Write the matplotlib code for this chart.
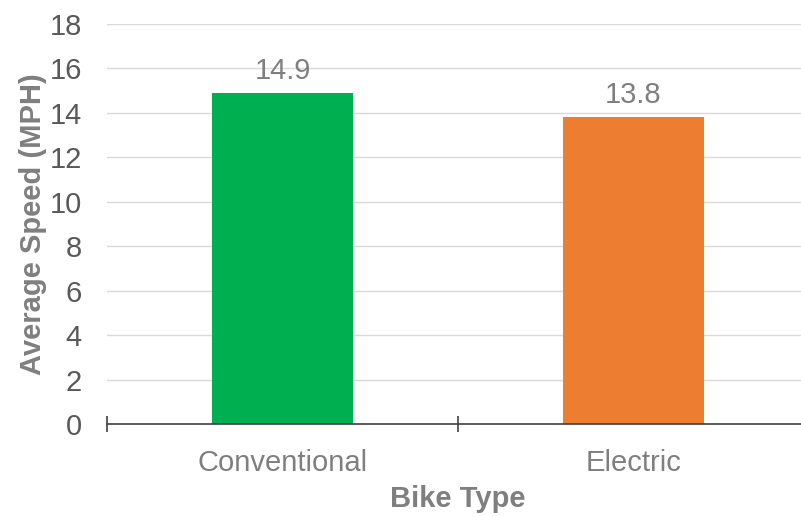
import matplotlib
matplotlib.use("Agg")
import matplotlib.pyplot as plt
import numpy as np

plt.rcParams['font.family'] = ['Liberation Sans', 'DejaVu Sans']

categories = ["Conventional", "Electric"]
speeds = [14.9, 13.8]
colors = ["#00B050", "#ED7D31"]
y_ticks = [0, 2, 4, 6, 8, 10, 12, 14, 16, 18]

fig = plt.figure(figsize=(8.01, 5.17), dpi=100)
ax = fig.add_axes([107/801, 93/517, 702/801, 400/517])

x = np.arange(len(categories))
bars = ax.bar(x, speeds, width=0.4, color=colors, zorder=3)

for xi, v in zip(x, speeds):
    ax.annotate(f"{v}", (xi, v), xytext=(0, 6), textcoords="offset points",
                ha="center", va="bottom", fontsize=21, color="#7F7F7F")

ax.set_xlim(-0.5, len(categories) - 0.5)
ax.set_ylim(0, 18)
ax.set_yticks(y_ticks)
ax.set_yticklabels([str(t) for t in y_ticks])
ax.yaxis.grid(True, color="#D9D9D9", linewidth=1.0, zorder=0)
ax.set_axisbelow(True)

for s in ["left", "right", "top"]:
    ax.spines[s].set_visible(False)
ax.spines["bottom"].set_color("#404040")
ax.spines["bottom"].set_linewidth(1.2)
ax.spines["bottom"].set_zorder(4)

ax.set_xticks(x)
ax.set_xticklabels(categories)
ax.set_xticks([-0.5, 0.5, 1.5], minor=True)
ax.tick_params(axis="x", which="major", length=0, pad=18, labelsize=21, labelcolor="#7F7F7F")
ax.tick_params(axis="x", which="minor", direction="inout", length=12, width=1.2, color="#404040")
ax.tick_params(axis="y", length=0, pad=18, labelsize=21, labelcolor="#595959")

ax.set_xlabel("Bike Type", fontsize=21, fontweight="bold", color="#7F7F7F", labelpad=6)
ax.set_ylabel("Average Speed (MPH)", fontsize=21, fontweight="bold", color="#7F7F7F", labelpad=2)

fig.savefig("out.png", dpi=100)
